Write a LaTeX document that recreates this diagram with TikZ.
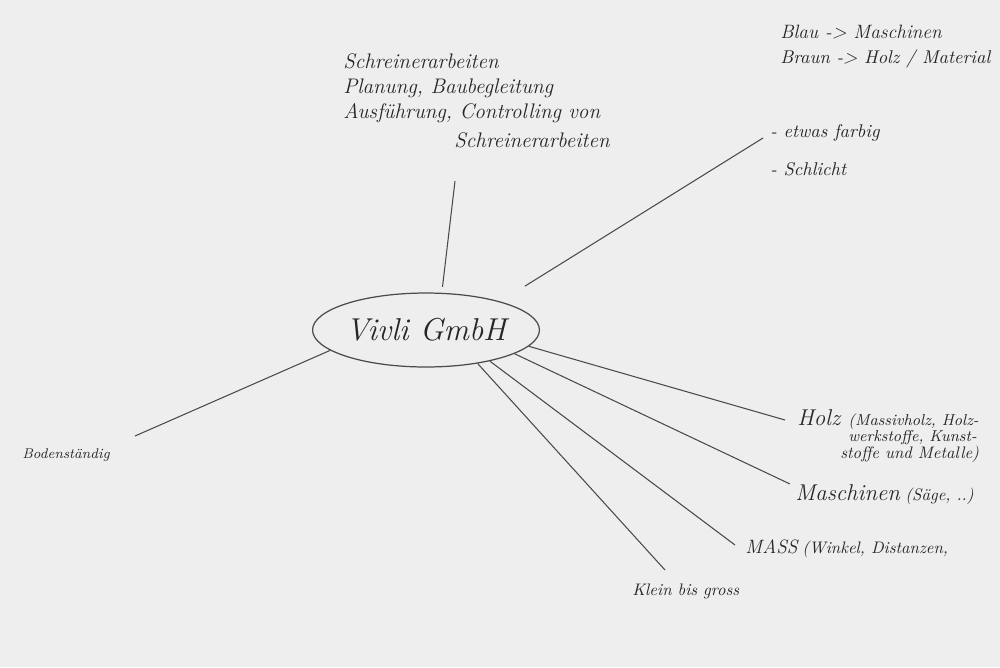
\documentclass[tikz,border=0pt]{standalone}
\usepackage{fontspec}
\usetikzlibrary{shapes.geometric}
\newcommand{\hsz}[1]{\fontsize{#1}{#1}\selectfont}
\definecolor{paper}{HTML}{EEEEEE}
\definecolor{ink}{HTML}{262626}
\definecolor{pencil}{HTML}{4A4A4A}
\begin{document}
\begin{tikzpicture}[x=0.02cm,y=-0.02cm,
  txt/.style={anchor=base west,inner sep=0pt,text=ink,font=\itshape},
  txtr/.style={anchor=base east,inner sep=0pt,text=ink,font=\itshape},
  conn/.style={draw=pencil,line width=0.6pt},
  hub/.style={ellipse,draw=pencil,line width=0.7pt,minimum width=4.28cm,minimum height=1.48cm,inner sep=0pt,text=ink,font=\itshape\hsz{18}}]
\fill[paper] (0,0) rectangle (1000,667);
\useasboundingbox (0,0) rectangle (1000,667);
% centre
\node[hub] (v) at (426,330) {Vivli GmbH};
% top block
\node[txt,font=\itshape\hsz{12}] (s1) at (343,68) {Schreinerarbeiten};
\node[txt,font=\itshape\hsz{12}] (s2) at (343,93) {Planung, Baubegleitung};
\node[txt,font=\itshape\hsz{12}] (s3) at (343,118) {Ausführung, Controlling von};
\node[txtr,font=\itshape\hsz{12}] (s4) at (610,147) {Schreinerarbeiten};
% legend
\node[txt,font=\itshape\hsz{11}] (l1) at (780,38) {Blau -> Maschinen};
\node[txt,font=\itshape\hsz{10.5}] (l2) at (780,63) {Braun -> Holz / Material};
% style
\node[txt,font=\itshape\hsz{10.5}] (f1) at (770,137) {- etwas farbig};
\node[txt,font=\itshape\hsz{10.5}] (f2) at (770,175) {- Schlicht};
% right items
\node[txt,font=\itshape\hsz{13}] (h1) at (797,425) {Holz};
\node[txt,font=\itshape\hsz{9}] (h2) at (848,425) {(Massivholz, Holz-};
\node[txt,font=\itshape\hsz{9}] (h3) at (848,441) {werkstoffe, Kunst-};
\node[txt,font=\itshape\hsz{9.5}] (h4) at (840,458) {stoffe und Metalle)};
\node[txt,font=\itshape\hsz{13}] (m1) at (795,500) {Maschinen};
\node[txt,font=\itshape\hsz{9.5}] (m2) at (905,500) {(Säge, ..)};
\node[txt,font=\itshape\hsz{11}] (a1) at (745,553) {MASS};
\node[txt,font=\itshape\hsz{9.5}] (a2) at (802,553) {(Winkel, Distanzen,};
\node[txt,font=\itshape\hsz{9.5}] (k1) at (632,595) {Klein bis gross};
\node[txt,font=\itshape\hsz{8}] (b1) at (22,458) {Bodenständig};
% free ends
\coordinate (eTop) at (455,181);
\coordinate (eUR) at (763,138);
\coordinate (eL) at (135,436);
\coordinate (eH) at (785,420);
\coordinate (eM) at (790,484);
\coordinate (eA) at (735,545);
\coordinate (eK) at (665,570);
% connectors
\draw[conn,shorten <=0.12cm] (v.67) -- (eTop);
\draw[conn,shorten <=0.58cm] (v.21) -- (eUR);
\draw[conn] (v.192) -- (eL);
\draw[conn] (v.-9) -- (eH);
\draw[conn] (v.-15) -- (eM);
\draw[conn] (v.-26) -- (eA);
\draw[conn] (v.-33) -- (eK);
\end{tikzpicture}
\end{document}
